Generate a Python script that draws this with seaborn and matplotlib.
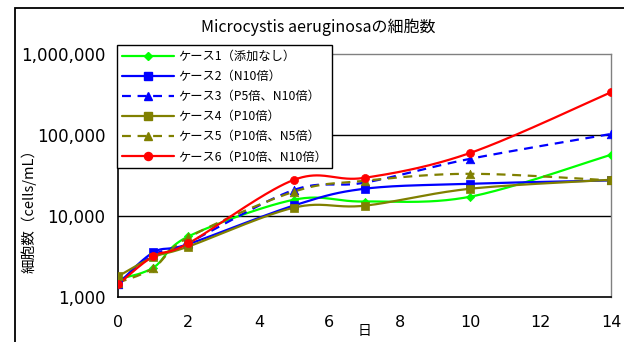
import numpy as np
import pandas as pd
import matplotlib
matplotlib.use("Agg")
import matplotlib.pyplot as plt
from matplotlib.lines import Line2D
from matplotlib.patches import Rectangle
from matplotlib.ticker import FixedLocator, NullLocator
import seaborn as sns

# Sampling days
days = [0, 1, 2, 5, 7, 10, 14]

# Cell counts (cells/mL) per case
case1 = [1650, 2300, 5600, 15900, 15100, 17300, 57000]
case2 = [1450, 3550, 4500, 13500, 21700, 25000, 27500]
case3 = [1450, 3300, 4700, 21000, 25800, 50800, 103000]
case4 = [1800, 3100, 4200, 12700, 13400, 21700, 28000]
case5 = [1500, 2270, 5440, 20000, 27200, 33200, 27500]
case6 = [1430, 3180, 4600, 28000, 29600, 60000, 337000]

labels = ["ケース1（添加なし）", "ケース2（N10倍）", "ケース3（P5倍、N10倍）",
          "ケース4（P10倍）", "ケース5（P10倍、N5倍）", "ケース6（P10倍、N10倍）"]
series = [case1, case2, case3, case4, case5, case6]
colors = ["#00FF00", "#0000FF", "#0000FF", "#808000", "#808000", "#FF0000"]
markers = ["D", "s", "^", "s", "^", "o"]
msizes = [4.2, 5.2, 6.2, 5.4, 6.2, 5.8]
dashed = [False, False, True, False, True, False]

y_ticks = [1000, 10000, 100000, 1000000]
y_ticklabels = ["1,000", "10,000", "100,000", "1,000,000"]
x_ticks = [0, 2, 4, 6, 8, 10, 12, 14]

sns.set_theme(style="white")
plt.rcParams["font.family"] = ["DejaVu Sans"]
plt.rcParams["text.color"] = "black"
plt.rcParams["xtick.color"] = "black"
plt.rcParams["ytick.color"] = "black"
plt.rcParams["axes.labelcolor"] = "black"
jp = ["Noto Sans CJK JP", "DejaVu Sans"]


def smooth_curve(x, y, n=40):
    """Catmull-Rom smoothing in (x, log10 y) space, like a spreadsheet's smoothed line."""
    x = np.asarray(x, float)
    ly = np.log10(np.asarray(y, float))
    P = np.column_stack([x, ly])
    pts = []
    for i in range(len(P) - 1):
        p0 = P[i - 1] if i > 0 else P[i]
        p1, p2 = P[i], P[i + 1]
        p3 = P[i + 2] if i + 2 < len(P) else P[i + 1]
        c1 = p1 + (p2 - p0) / 6.0
        c2 = p2 - (p3 - p1) / 6.0
        t = np.linspace(0, 1, n, endpoint=(i == len(P) - 2))[:, None]
        b = ((1 - t) ** 3) * p1 + 3 * ((1 - t) ** 2) * t * c1 + 3 * (1 - t) * t ** 2 * c2 + t ** 3 * p2
        pts.append(b)
    pts = np.vstack(pts)
    return pts[:, 0], 10 ** pts[:, 1]


fig = plt.figure(figsize=(6.24, 3.42), dpi=100)
fig.patch.set_facecolor("white")
ax = fig.add_axes([118 / 624, 45 / 342, (611 - 118) / 624, (297 - 54) / 342])

for vals, c, m, ms, d in zip(series, colors, markers, msizes, dashed):
    sx, sy = smooth_curve(days, vals)
    curve = pd.DataFrame({"day": sx, "count": sy})
    sns.lineplot(data=curve, x="day", y="count", ax=ax, color=c, lw=1.6,
                 sort=False, estimator=None, linestyle=(0, (4, 3)) if d else "-")
    pts = pd.DataFrame({"day": days, "count": vals})
    sns.scatterplot(data=pts, x="day", y="count", ax=ax, color=c, marker=m,
                    s=ms ** 2, edgecolor=c, linewidth=0.5, zorder=5)

ax.set_yscale("log")
ax.set_ylim(1000, 1000000)
ax.set_xlim(0, 14)
ax.yaxis.set_major_locator(FixedLocator(y_ticks))
ax.yaxis.set_minor_locator(NullLocator())
ax.set_yticklabels(y_ticklabels, fontsize=12)
ax.set_xticks(x_ticks)
ax.set_xticklabels([str(t) for t in x_ticks], fontsize=11.5)
ax.tick_params(axis="x", direction="in", length=4, width=1, color="black", pad=13)
ax.tick_params(axis="y", length=0, pad=9)

for yv in [10000, 100000]:
    ax.axhline(yv, color="black", lw=1, zorder=1)

for s in ["left", "bottom"]:
    ax.spines[s].set_color("black")
    ax.spines[s].set_linewidth(1.2)
for s in ["top", "right"]:
    ax.spines[s].set_color("#808080")
    ax.spines[s].set_linewidth(1)

ax.set_xlabel("日", family=jp, fontsize=10, labelpad=-4)
ax.set_ylabel("細胞数（cells/mL）", family=jp, fontsize=10.5)
ax.yaxis.set_label_coords(-0.165, 0.37)

fig.text(318 / 624, 1 - 27 / 342, "Microcystis aeruginosaの細胞数", family=jp,
         fontsize=11.5, ha="center", va="center")

handles = []
for c, m, ms, d in zip(colors, markers, msizes, dashed):
    handles.append(Line2D([], [], color=c, lw=1.6, marker=m, markersize=ms,
                          markeredgecolor=c,
                          linestyle=(0, (4, 3)) if d else "-"))
leg = fig.legend(handles, labels, loc="upper left",
                 bbox_to_anchor=(117 / 624, 1 - 45 / 342), borderaxespad=0,
                 prop={"family": jp, "size": 8.8}, frameon=True, fancybox=False,
                 edgecolor="black", framealpha=1, handlelength=4.3,
                 handletextpad=0.3, labelspacing=0.58, borderpad=0.4)
leg.get_frame().set_linewidth(1)

# Outer chart frame
fig.add_artist(Rectangle((15 / 624, -0.1), 1.1, 1 - 8 / 342 + 0.1,
                         transform=fig.transFigure, fill=False,
                         edgecolor="black", lw=1.3))

fig.savefig("out.png", dpi=100)
